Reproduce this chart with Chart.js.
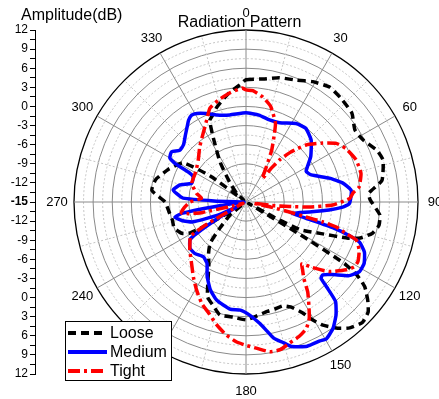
<!DOCTYPE html>
<html><head><meta charset="utf-8">
<script src="https://cdn.jsdelivr.net/npm/chart.js@4.4.1/dist/chart.umd.min.js"></script>
<style>
html,body{margin:0;padding:0;background:#fff;}
#wrap{position:relative;width:439px;height:399px;overflow:hidden;background:#fff;}
#polar,#axis{position:absolute;left:0;top:0;}
</style></head><body>
<div id="wrap"><canvas id="polar" width="439" height="399"></canvas><canvas id="axis" width="60" height="399"></canvas></div>
<script>
// ---- data: [angle (deg), amplitude (dB)] ----
const loose = [[0,4.2],[8,4.5],[15,5.2],[22.5,5.7],[29,6.6],[36,7.3],[42,7.1],[50,6.7],[56.5,5.5],[62,5.8],[68.5,7.1],[73,7.5],[81,6.6],[86,4.3],[89,4.5],[95.5,6.1],[100,6.2],[104,5.4],[107.5,3.8],[109.5,2.0],[113,-2.4],[117,-5.4],[118.5,-10],[119.5,-14.5],[121,-5],[122,3.2],[123.5,6.0],[125.5,7.9],[129,9.6],[132,10.8],[136,11.3],[140.5,10.6],[144,9.5],[148,7.8],[150.5,6.3],[153,4.5],[157,2.9],[160.5,2.3],[165,2.4],[169,2.5],[176,3.1],[180,3.5],[186,3.2],[193,3.2],[197,2.2],[202,1.1],[205.5,-1.1],[210.5,-3.5],[216,-5.0],[221,-6.4],[225,-9.2],[231,-11.8],[235,-14.5],[239,-9],[241,-5],[244,-3.8],[250,-3.0],[256,-3.1],[263,-2.8],[270,-2.3],[277,-0.1],[284,-0.4],[293,-1.8],[302,-3.4],[306,-8],[309,-14.5],[313,-13],[320,-11.1],[327,-7.5],[333,-3.7],[336,-1.0],[339,-0.4],[343,0.6],[351,2.3],[357,3.4]];
const medium = [[0,-1.0],[8.5,-1.2],[16,-1.6],[23,-1.5],[32.5,-0.4],[39,-0.1],[46.5,-0.9],[55,-2.6],[63,-4.4],[67.5,-3.9],[74,-1.4],[79,0.5],[83.5,1.6],[87,1.5],[91,1.2],[93,0.2],[95.5,-1.9],[99,-4.9],[104,-7.5],[105.5,-4.2],[106.5,-0.8],[108,2.0],[109.5,3.9],[113,5.2],[117.5,5.9],[121.5,5.9],[125.5,4.9],[130,2.7],[133.5,1.6],[135.5,1.8],[136.5,3.4],[138,6.0],[141.5,7.7],[145.5,9.1],[149.5,9.9],[152,9.7],[157,9.6],[162.5,8.8],[165,7.9],[168.5,6.8],[171,5.4],[173.5,4.2],[178,2.8],[183,2.0],[188.5,2.0],[196.5,1.1],[202,-0.1],[207.5,-1.8],[212.5,-3.6],[218,-4.1],[225,-3.6],[230.5,-3.6],[236,-4.4],[237.5,-5.8],[240,-10.5],[242.5,-13.5],[245,-10],[249.5,-6.1],[254,-4.5],[258,-3.6],[260,-4.9],[262,-11],[265,-14.7],[269,-14.5],[272,-10],[273.5,-5.1],[277,-4.0],[279.5,-3.4],[284.5,-4.3],[289,-6.0],[295.5,-5.8],[297.5,-4.8],[298.5,-2.3],[300,-1.2],[304,-0.9],[308,-1.8],[312.5,-1.7],[318,-0.8],[322,0.0],[325,0.7],[328,1.1],[331,0.9],[336,0.2],[341.5,-0.6],[349.5,-1.1]];
const tight = [[0,2.6],[3.5,2.5],[9,1.7],[14.5,0.5],[20.5,-1.8],[23,-3.7],[26.5,-6.0],[30,-8.6],[33.5,-10.2],[35,-10.6],[37,-8.2],[38.5,-6.6],[42,-4.4],[46.5,-2.0],[52.5,0.2],[57,1.9],[62,2.8],[69,3.5],[76,3.6],[82.5,2.9],[85,1.9],[88,1.3],[92,-1.4],[94.5,-5.1],[96,-8.2],[97.5,-11],[99.5,-13.8],[101.5,-11],[103,-8.0],[104,-5.3],[104.5,-2.6],[105.5,-0.3],[107.5,1.5],[109,3.3],[113,4.3],[118,4.9],[121,4.8],[124,4.0],[130,2.0],[134.5,-0.3],[138,-1.9],[140,-1.2],[143,0.1],[145.5,2.1],[149,4.2],[151.5,5.8],[154.5,7.0],[158.5,7.7],[163,8.2],[167,8.8],[171,8.8],[176,8.0],[180,7.5],[184,7.0],[188.5,6.1],[193.5,4.8],[198.5,3.4],[203.5,2.4],[209.5,0.8],[215,-0.6],[221.5,-2.1],[229.5,-3.4],[236,-4.4],[238.5,-4.7],[240.5,-8],[243,-13.5],[248,-14.5],[253,-13],[256.5,-8],[258.5,-5.8],[260.5,-4.7],[265,-5.3],[270,-6.2],[275,-8.0],[280,-7.1],[289,-6.0],[301,-5.8],[311.5,-5.0],[320,-3.7],[328,-2.3],[334.5,-0.7],[339,0.8],[345,1.6],[351.5,2.3],[358,2.9]];
const seriesNames = ['Loose','Medium','Tight'];
const angleTickLabels = [0,30,60,90,120,150,180,210,240,270,300,330];
const chartTitle = 'Radiation Pattern';
const axisTitle = 'Amplitude(dB)';
const rMin = -15, rMax = 12;

const FONT = '"Liberation Sans", Arial, sans-serif';
const N = 720; // 0.5 degree angular resolution
const labels = Array.from({length: N}, (_, i) => i / 2);
function toSeries(pairs) {
  const arr = new Array(N).fill(null);
  pairs.forEach(([a, v]) => { arr[Math.round(a * 2) % N] = v; });
  return arr;
}

const decor = {
  id: 'decor',
  afterDraw(chart) {
    const ctx = chart.ctx, s = chart.scales.r;
    ctx.save();
    ctx.fillStyle = '#000';
    ctx.font = '13px ' + FONT;
    ctx.textAlign = 'center';
    ctx.textBaseline = 'middle';
    angleTickLabels.forEach(a => {
      const p = s.getPointPosition(Math.round(a * 2), s.drawingArea + 17);
      ctx.fillText(String(a), p.x, p.y);
    });
    ctx.font = '16px ' + FONT;
    ctx.textBaseline = 'alphabetic';
    ctx.textAlign = 'center';
    ctx.fillText(chartTitle, 239.5, 27);
    ctx.textAlign = 'left';
    ctx.fillText(axisTitle, 21, 19.5);
    // legend
    const lx = 65, ly = 321, lw = 106, lh = 59;
    ctx.fillStyle = '#fff';
    ctx.fillRect(lx, ly, lw, lh);
    ctx.strokeStyle = '#000';
    ctx.lineWidth = 1;
    ctx.strokeRect(lx + 0.5, ly + 0.5, lw, lh);
    chart.data.datasets.forEach((ds, i) => {
      const y = 333 + i * 19;
      ctx.beginPath();
      ctx.setLineDash(ds.borderDash || []);
      ctx.strokeStyle = ds.borderColor;
      ctx.lineWidth = 4;
      ctx.moveTo(68, y);
      ctx.lineTo(107, y);
      ctx.stroke();
      ctx.setLineDash([]);
      ctx.fillStyle = '#000';
      ctx.font = '16px ' + FONT;
      ctx.textAlign = 'left';
      ctx.textBaseline = 'middle';
      ctx.fillText(ds.label, 110, y + 1);
    });
    ctx.restore();
  }
};

new Chart(document.getElementById('polar'), {
  type: 'radar',
  data: {
    labels: labels,
    datasets: [
      {label: seriesNames[0], data: toSeries(loose), borderColor: '#000000', borderDash: [8, 5], borderWidth: 3.5, order: 3},
      {label: seriesNames[1], data: toSeries(medium), borderColor: '#0000ff', borderDash: [], borderWidth: 3.5, order: 2},
      {label: seriesNames[2], data: toSeries(tight), borderColor: '#ff0000', borderDash: [12, 4, 3, 4], borderWidth: 3.5, order: 1}
    ]
  },
  options: {
    responsive: false,
    animation: false,
    devicePixelRatio: 1,
    spanGaps: true,
    layout: {padding: {left: 74, right: 21, top: 30, bottom: 25}},
    elements: {
      point: {radius: 0, hoverRadius: 0},
      line: {tension: 0.15, fill: false, borderCapStyle: 'butt', borderJoinStyle: 'round'}
    },
    plugins: {legend: {display: false}, tooltip: {enabled: false}, title: {display: false}},
    scales: {
      r: {
        min: rMin, max: rMax, startAngle: 0,
        ticks: {display: false, stepSize: 1.5},
        pointLabels: {display: false},
        grid: {
          circular: true,
          color: c => {
            const v = c.tick ? c.tick.value : 0;
            if (Math.abs(v - rMax) < 1e-6) return '#000';
            return ((v - rMin) % 3 === 0) ? '#8a8a8a' : '#c4c4c4';
          },
          lineWidth: c => {
            const v = c.tick ? c.tick.value : 0;
            return Math.abs(v - rMax) < 1e-6 ? 1.3 : 1;
          }
        },
        border: {
          dash: c => {
            const v = c.tick ? c.tick.value : 0;
            return ((v - rMin) % 3 === 0) ? [] : [2, 2];
          }
        },
        angleLines: {
          display: true,
          color: c => (c.index % 60 === 0) ? '#8a8a8a' : '#c4c4c4',
          lineWidth: c => (c.index % 30 === 0) ? 1 : 0,
          borderDash: c => (c.index % 60 === 0) ? [] : [2, 2]
        }
      }
    }
  },
  plugins: [decor]
});

new Chart(document.getElementById('axis'), {
  type: 'scatter',
  data: {datasets: []},
  options: {
    responsive: false,
    animation: false,
    devicePixelRatio: 1,
    layout: {padding: {top: 30, bottom: 25, left: 0, right: 0}},
    plugins: {legend: {display: false}, tooltip: {enabled: false}},
    scales: {
      x: {display: false, min: 0, max: 1},
      y: {
        position: 'left',
        min: -(rMax - rMin), max: (rMax - rMin),
        afterFit(s) { s.width = 35; },
        ticks: {
          stepSize: 1.5, autoSkip: false, padding: 2, color: '#000',
          font: c => ({size: 12, family: FONT, weight: (c.tick && c.tick.value === 0) ? 'bold' : 'normal'}),
          callback: v => (Math.abs(v) % 3 === 0 ? String(Math.abs(v) + rMin) : '')
        },
        grid: {display: true, drawOnChartArea: false, drawTicks: true, tickLength: 5, tickColor: '#000', tickWidth: 1},
        border: {display: true, color: '#000', width: 1}
      }
    }
  }
});
</script>
</body></html>
